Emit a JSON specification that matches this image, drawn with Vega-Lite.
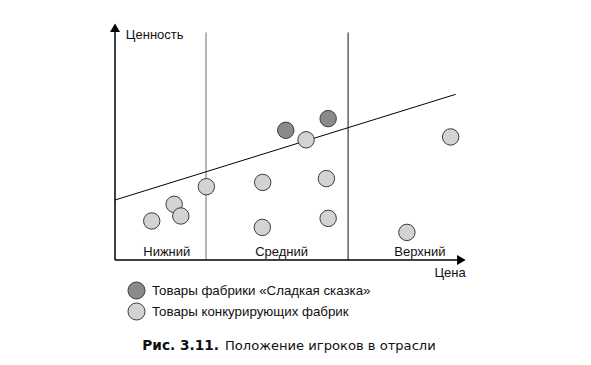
{
  "$schema": "https://vega.github.io/schema/vega-lite/v6.json",
  "width": 350,
  "height": 238,
  "autosize": {"type": "none"},
  "padding": {"left": 115, "top": 22, "right": 126, "bottom": 105},
  "background": "white",
  "config": {"view": {"stroke": null}, "font": "Liberation Sans"},
  "datasets": {
    "points": [
      {"price": 48.8, "value": 54.5, "group": "Товары фабрики «Сладкая сказка»"},
      {"price": 60.9, "value": 59.4, "group": "Товары фабрики «Сладкая сказка»"},
      {"price": 54.6, "value": 50.5, "group": "Товары конкурирующих фабрик"},
      {"price": 95.9, "value": 51.7, "group": "Товары конкурирующих фабрик"},
      {"price": 26.1, "value": 30.8, "group": "Товары конкурирующих фабрик"},
      {"price": 42.2, "value": 32.6, "group": "Товары конкурирующих фабрик"},
      {"price": 60.4, "value": 34.2, "group": "Товары конкурирующих фабрик"},
      {"price": 16.9, "value": 23.4, "group": "Товары конкурирующих фабрик"},
      {"price": 18.8, "value": 18.5, "group": "Товары конкурирующих фабрик"},
      {"price": 10.5, "value": 16.4, "group": "Товары конкурирующих фабрик"},
      {"price": 42.1, "value": 13.7, "group": "Товары конкурирующих фабрик"},
      {"price": 60.9, "value": 17.5, "group": "Товары конкурирующих фабрик"},
      {"price": 83.4, "value": 11.6, "group": "Товары конкурирующих фабрик"}
    ],
    "trend": [
      {"price": 0, "value": 25.2},
      {"price": 97.3, "value": 69.6}
    ],
    "segments": [
      {"label": "Нижний", "price": 14.8, "value": 3.5},
      {"label": "Средний", "price": 47.6, "value": 3.5},
      {"label": "Верхний", "price": 87.1, "value": 3.5}
    ]
  },
  "layer": [
    {
      "data": {"values": [{"price": 26, "v0": 0, "v1": 95.6}]},
      "mark": {"type": "rule", "color": "#6e6e6e", "strokeWidth": 1},
      "encoding": {
        "x": {"field": "price", "type": "quantitative", "scale": {"domain": [0, 100], "nice": false, "zero": false}, "axis": null},
        "y": {"field": "v0", "type": "quantitative", "scale": {"domain": [0, 100], "nice": false, "zero": false}, "axis": null},
        "y2": {"field": "v1"}
      }
    },
    {
      "data": {"values": [{"price": 66.6, "v0": 0, "v1": 95.6}]},
      "mark": {"type": "rule", "color": "#111", "strokeWidth": 1},
      "encoding": {
        "x": {"field": "price", "type": "quantitative"},
        "y": {"field": "v0", "type": "quantitative"},
        "y2": {"field": "v1"}
      }
    },
    {
      "data": {"values": [{"p0": 0, "p1": 98, "value": 0}]},
      "mark": {"type": "rule", "color": "#000", "strokeWidth": 1.5},
      "encoding": {
        "x": {"field": "p0", "type": "quantitative"},
        "x2": {"field": "p1"},
        "y": {"field": "value", "type": "quantitative"}
      }
    },
    {
      "data": {"values": [{"price": 0, "v0": 0, "v1": 97}]},
      "mark": {"type": "rule", "color": "#000", "strokeWidth": 1.5},
      "encoding": {
        "x": {"field": "price", "type": "quantitative"},
        "y": {"field": "v0", "type": "quantitative"},
        "y2": {"field": "v1"}
      }
    },
    {
      "data": {"values": [{"price": 98.97, "value": 0}]},
      "mark": {"type": "point", "shape": "triangle-right", "filled": true, "color": "#000", "size": 100, "opacity": 1},
      "encoding": {
        "x": {"field": "price", "type": "quantitative"},
        "y": {"field": "value", "type": "quantitative"}
      }
    },
    {
      "data": {"values": [{"price": 0, "value": 97.6}]},
      "mark": {"type": "point", "shape": "triangle-up", "filled": true, "color": "#000", "size": 100, "opacity": 1},
      "encoding": {
        "x": {"field": "price", "type": "quantitative"},
        "y": {"field": "value", "type": "quantitative"}
      }
    },
    {
      "data": {"name": "trend"},
      "mark": {"type": "line", "color": "#000", "strokeWidth": 1},
      "encoding": {
        "x": {"field": "price", "type": "quantitative"},
        "y": {"field": "value", "type": "quantitative"}
      }
    },
    {
      "data": {"name": "points"},
      "mark": {"type": "point", "filled": true, "shape": "circle", "size": 270, "stroke": "#3a3a3a", "strokeWidth": 1, "opacity": 1},
      "encoding": {
        "x": {"field": "price", "type": "quantitative"},
        "y": {"field": "value", "type": "quantitative"},
        "fill": {
          "field": "group", "type": "nominal",
          "scale": {"domain": ["Товары фабрики «Сладкая сказка»", "Товары конкурирующих фабрик"], "range": ["#8a8a8a", "#d3d3d3"]},
          "legend": {
            "orient": "none", "legendX": 12, "legendY": 259, "title": null,
            "symbolType": "circle", "symbolSize": 290, "symbolStrokeColor": "#3a3a3a", "symbolStrokeWidth": 1,
            "symbolOpacity": 1,
            "labelFont": "Liberation Sans", "labelFontSize": 13.3, "labelColor": "#111", "labelOffset": 6,
            "rowPadding": -7, "labelLimit": 400
          }
        }
      }
    },
    {
      "data": {"name": "segments"},
      "mark": {"type": "text", "font": "Liberation Sans", "fontSize": 13, "color": "#111", "align": "center", "baseline": "middle"},
      "encoding": {
        "x": {"field": "price", "type": "quantitative"},
        "y": {"field": "value", "type": "quantitative"},
        "text": {"field": "label"}
      }
    },
    {
      "data": {"values": [{"label": "Ценность", "price": 3.1, "value": 94.5}]},
      "mark": {"type": "text", "font": "Liberation Sans", "fontSize": 13, "color": "#111", "align": "left", "baseline": "middle"},
      "encoding": {
        "x": {"field": "price", "type": "quantitative"},
        "y": {"field": "value", "type": "quantitative"},
        "text": {"field": "label"}
      }
    },
    {
      "data": {"values": [{"label": "Цена", "price": 100.2, "value": -5.3}]},
      "mark": {"type": "text", "font": "Liberation Sans", "fontSize": 13, "color": "#111", "align": "right", "baseline": "middle"},
      "encoding": {
        "x": {"field": "price", "type": "quantitative"},
        "y": {"field": "value", "type": "quantitative"},
        "text": {"field": "label"}
      }
    },
    {
      "data": {"values": [{"label": "Рис. 3.11.", "price": 7.8, "value": -36.1}]},
      "mark": {"type": "text", "font": "DejaVu Sans", "fontSize": 13.7, "fontWeight": "bold", "color": "#111", "align": "left", "baseline": "middle"},
      "encoding": {
        "x": {"field": "price", "type": "quantitative"},
        "y": {"field": "value", "type": "quantitative"},
        "text": {"field": "label"}
      }
    },
    {
      "data": {"values": [{"label": "Положение игроков в отрасли", "price": 31.4, "value": -36.1}]},
      "mark": {"type": "text", "font": "DejaVu Sans", "fontSize": 13.1, "color": "#111", "align": "left", "baseline": "middle"},
      "encoding": {
        "x": {"field": "price", "type": "quantitative"},
        "y": {"field": "value", "type": "quantitative"},
        "text": {"field": "label"}
      }
    }
  ]
}
